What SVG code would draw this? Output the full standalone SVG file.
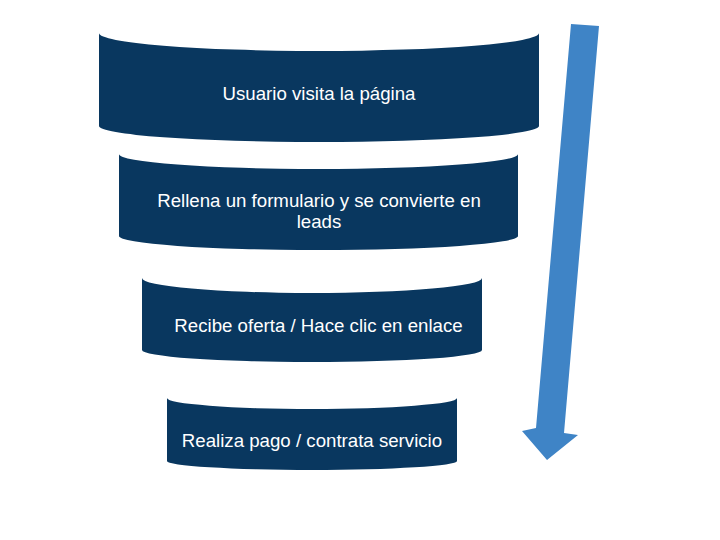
<svg xmlns="http://www.w3.org/2000/svg" width="720" height="540" viewBox="0 0 720 540">
<style>
.stage{fill:#09375f}
.lbl{font-family:"Liberation Sans",Arial,sans-serif;font-size:18.67px;fill:#ffffff;text-anchor:middle}
.arrow{fill:#3f84c6}
</style>
<rect width="720" height="540" fill="#ffffff"/>
<g id="stage1">
<path class="stage" d="M99,33 A220,18 0 0 0 539,33 L539,126 A220,16 0 0 1 99,126 Z"/>
<text class="lbl" x="319" y="100">Usuario visita la página</text>
</g>
<g id="stage2">
<path class="stage" d="M119,154 A199.5,15 0 0 0 518,154 L518,236 A199.5,14 0 0 1 119,236 Z"/>
<text class="lbl" x="319" y="207">Rellena un formulario y se convierte en</text>
<text class="lbl" x="319" y="228">leads</text>
</g>
<g id="stage3">
<path class="stage" d="M142,278 A170,15 0 0 0 482,278 L482,350 A170,12 0 0 1 142,350 Z"/>
<text class="lbl" x="318.5" y="332">Recibe oferta / Hace clic en enlace</text>
</g>
<g id="stage4">
<path class="stage" d="M167,398 A145,11 0 0 0 457,398 L457,461 A145,9 0 0 1 167,461 Z"/>
<text class="lbl" x="312" y="447">Realiza pago / contrata servicio</text>
</g>
<g id="connectors">
<path class="arrow" d="M571,24 L599,26 L564,433 L578,435 L547,460 L522,431 L536,428 Z"/>
</g>
</svg>
